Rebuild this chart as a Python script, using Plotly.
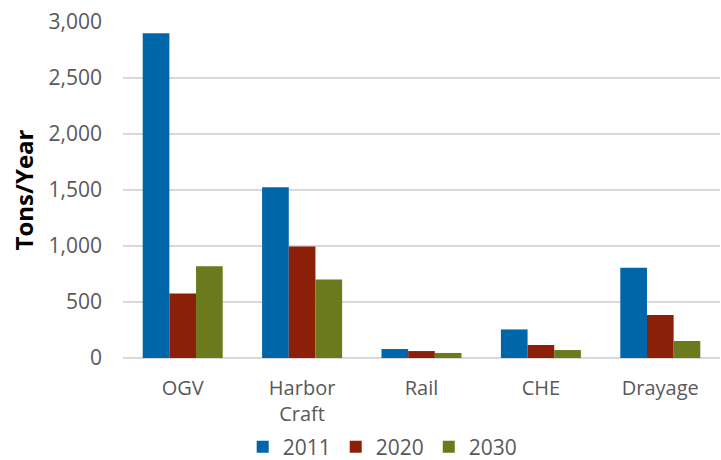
import plotly.graph_objects as go

categories = ["OGV", "Harbor<br>Craft", "Rail", "CHE", "Drayage"]
years = ["2011", "2020", "2030"]
values_2011 = [2900, 1525, 80, 255, 805]
values_2020 = [575, 995, 62, 116, 384]
values_2030 = [820, 700, 45, 71, 152]
colors = ["#0066AA", "#8B1F07", "#6A7A1C"]
y_ticks = [0, 500, 1000, 1500, 2000, 2500, 3000]

font_family = "'Open Sans', Lato, sans-serif"

fig = go.Figure()
for name, vals, col in zip(years, [values_2011, values_2020, values_2030], colors):
    fig.add_trace(go.Bar(x=categories, y=vals, name=name, marker_color=col,
                         marker_line_width=0))

fig.update_layout(
    width=721, height=460,
    margin=dict(l=123, r=1, t=22, b=102, autoexpand=False),
    paper_bgcolor="white", plot_bgcolor="white",
    barmode="group", bargap=0.33, bargroupgap=0,
    font=dict(family=font_family, size=20, color="#595959"),
    legend=dict(orientation="h", x=0.435, xanchor="center", y=-0.265, yanchor="middle",
                font=dict(size=21, color="#595959"), itemwidth=30,
                traceorder="normal"),
    xaxis=dict(showline=False, ticks="", ticklabelstandoff=16,
               tickfont=dict(size=20, color="#595959")),
    yaxis=dict(range=[0, 3000], tickvals=y_ticks, tickformat=",",
               showgrid=True, gridcolor="#D9D9D9", gridwidth=1.5,
               zeroline=True, zerolinecolor="#D9D9D9", zerolinewidth=1.5,
               ticks="", ticklen=0, ticklabelstandoff=20,
               tickfont=dict(size=21, color="#595959"),
               title=dict(text="<b>Tons/Year</b>", font=dict(size=24, color="black"),
                          standoff=8)),
)

fig.write_html("out.html")
